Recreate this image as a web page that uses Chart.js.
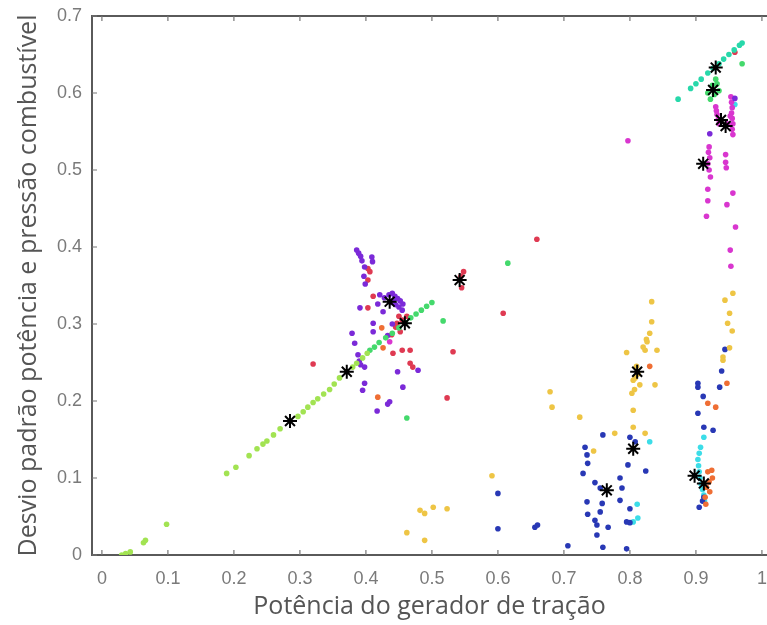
<!DOCTYPE html>
<html>
<head>
<meta charset="utf-8">
<script src="https://cdn.jsdelivr.net/npm/chart.js@4/dist/chart.umd.min.js"></script>
<style>
  html, body { margin: 0; padding: 0; background: #fff; }
  #wrap { width: 767px; height: 625px; }
</style>
</head>
<body>
<div id="wrap"><canvas id="chart" width="767" height="625"></canvas></div>
<script>
// axis ticks
const xTicks = [0, 0.1, 0.2, 0.3, 0.4, 0.5, 0.6, 0.7, 0.8, 0.9, 1];
const yTicks = [0, 0.1, 0.2, 0.3, 0.4, 0.5, 0.6, 0.7];

// points per colour group, [x, y]
const limePts = [[0.030,0.000],[0.036,0.002],[0.043,0.004],[0.063,0.016],[0.066,0.019],[0.098,0.040],
  [0.189,0.106],[0.203,0.114],[0.223,0.129],[0.235,0.138],[0.244,0.144],[0.250,0.148],[0.260,0.156],
  [0.270,0.164],[0.297,0.180],[0.305,0.186],[0.312,0.192],[0.320,0.198],[0.327,0.203],[0.336,0.209],
  [0.345,0.215],[0.352,0.222],[0.360,0.230],[0.380,0.244],[0.386,0.249],[0.395,0.256],[0.402,0.262]];
const greenPts = [[0.406,0.266],[0.413,0.270],[0.420,0.276],[0.430,0.282],[0.440,0.288],[0.450,0.295],
  [0.460,0.302],[0.468,0.308],[0.476,0.313],[0.484,0.318],[0.492,0.323],[0.500,0.328],
  [0.462,0.178],[0.517,0.304],[0.615,0.379],[0.970,0.638],
  [0.918,0.600],[0.925,0.610],[0.932,0.612],[0.928,0.598],[0.935,0.603],[0.922,0.592],[0.930,0.618]];
const tealPts = [[0.873,0.592],[0.892,0.606],[0.900,0.612],[0.908,0.618],[0.918,0.626],[0.926,0.632],
  [0.935,0.638],[0.942,0.644],[0.950,0.650],[0.958,0.656],[0.966,0.662],[0.970,0.665]];
const purplePts = [[0.428,0.334],[0.435,0.338],[0.440,0.340],[0.444,0.336],[0.448,0.333],[0.452,0.330],
  [0.445,0.325],[0.450,0.322],[0.455,0.318],[0.438,0.328],[0.442,0.331],[0.456,0.326],
  [0.386,0.396],[0.389,0.392],[0.392,0.388],[0.394,0.382],[0.409,0.387],[0.410,0.381],[0.398,0.374],
  [0.397,0.362],[0.399,0.352],[0.421,0.338],[0.391,0.321],[0.418,0.326],[0.426,0.316],[0.411,0.301],
  [0.411,0.290],[0.379,0.288],[0.383,0.275],[0.388,0.260],[0.390,0.252],[0.392,0.247],[0.398,0.244],
  [0.479,0.240],[0.448,0.238],[0.456,0.218],[0.398,0.223],[0.395,0.214],[0.436,0.199],[0.417,0.187],
  [0.433,0.196],[0.440,0.300],[0.433,0.285],[0.921,0.547],[0.959,0.593]];
const redPts = [[0.403,0.372],[0.406,0.368],[0.403,0.357],[0.411,0.336],[0.403,0.321],[0.447,0.301],
  [0.452,0.290],[0.439,0.286],[0.441,0.262],[0.455,0.266],[0.467,0.266],[0.467,0.249],[0.471,0.244],
  [0.523,0.204],[0.532,0.264],[0.545,0.347],[0.544,0.362],[0.548,0.368],[0.320,0.248],[0.608,0.314],
  [0.659,0.410],[0.959,0.653],[0.455,0.305],[0.462,0.310],[0.445,0.296],[0.450,0.310]];
const magentaPts = [[0.930,0.582],[0.931,0.577],[0.932,0.572],[0.934,0.566],[0.935,0.560],
  [0.953,0.595],[0.954,0.588],[0.955,0.581],[0.954,0.574],[0.955,0.567],[0.956,0.560],[0.955,0.553],
  [0.956,0.546],[0.952,0.570],[0.948,0.560],[0.920,0.530],[0.919,0.523],[0.921,0.516],[0.918,0.508],
  [0.920,0.500],[0.922,0.491],[0.945,0.520],[0.945,0.510],[0.946,0.503],[0.918,0.475],[0.918,0.460],
  [0.916,0.440],[0.956,0.470],[0.947,0.455],[0.960,0.426],[0.952,0.396],[0.953,0.375],[0.797,0.538],
  [0.436,0.277]];
const orangePts = [[0.424,0.295],[0.426,0.269],[0.418,0.205],[0.830,0.245],[0.947,0.223],[0.918,0.197],
  [0.930,0.192],[0.918,0.108],[0.924,0.110],[0.925,0.100],[0.920,0.095],[0.916,0.088],[0.921,0.082],
  [0.914,0.075],[0.915,0.066]];
const yellowPts = [[0.833,0.329],[0.833,0.303],[0.830,0.288],[0.826,0.277],[0.823,0.266],[0.841,0.266],
  [0.795,0.263],[0.825,0.280],[0.820,0.270],[0.805,0.227],[0.815,0.221],[0.838,0.221],[0.803,0.210],
  [0.807,0.215],[0.805,0.188],[0.805,0.166],[0.823,0.158],[0.777,0.158],[0.679,0.212],[0.682,0.192],
  [0.724,0.179],[0.745,0.135],[0.591,0.103],[0.502,0.062],[0.523,0.060],[0.482,0.058],[0.489,0.054],
  [0.462,0.029],[0.489,0.019],[0.956,0.340],[0.944,0.331],[0.951,0.314],[0.948,0.301],[0.955,0.291],
  [0.951,0.269],[0.941,0.257],[0.941,0.253],[0.810,0.245],[0.812,0.235],[0.808,0.230]];
const bluePts = [[0.759,0.156],[0.800,0.153],[0.808,0.147],[0.732,0.140],[0.735,0.130],[0.736,0.119],
  [0.797,0.117],[0.729,0.106],[0.824,0.109],[0.747,0.094],[0.755,0.087],[0.785,0.100],[0.788,0.087],
  [0.785,0.071],[0.735,0.069],[0.758,0.067],[0.736,0.053],[0.755,0.056],[0.800,0.060],[0.747,0.045],
  [0.767,0.036],[0.750,0.039],[0.795,0.043],[0.800,0.042],[0.750,0.026],[0.759,0.010],[0.795,0.008],
  [0.706,0.012],[0.600,0.080],[0.600,0.034],[0.656,0.036],[0.660,0.039],[0.944,0.267],[0.939,0.239],
  [0.936,0.218],[0.903,0.223],[0.903,0.218],[0.911,0.206],[0.903,0.184],[0.912,0.166],[0.926,0.162],
  [0.912,0.075],[0.910,0.070],[0.905,0.062]];
const cyanPts = [[0.830,0.147],[0.811,0.066],[0.812,0.048],[0.805,0.043],[0.912,0.153],[0.907,0.140],
  [0.905,0.132],[0.903,0.124],[0.904,0.116],[0.905,0.108],[0.906,0.100],[0.908,0.092],[0.910,0.085],
  [0.912,0.078],[0.913,0.070],[0.959,0.585]];
const starPts = [[0.285,0.174],[0.371,0.238],[0.436,0.329],[0.459,0.301],[0.542,0.357],[0.765,0.084],
  [0.805,0.138],[0.811,0.238],[0.898,0.103],[0.912,0.093],[0.911,0.508],[0.938,0.565],[0.945,0.557],
  [0.926,0.604],[0.930,0.633]];

const groups = [
  { pts: limePts, color: '#a2e352' },
  { pts: greenPts, color: '#44d96c' },
  { pts: tealPts, color: '#27d8aa' },
  { pts: purplePts, color: '#7b2ad8' },
  { pts: redPts, color: '#df3a52' },
  { pts: magentaPts, color: '#d936cf' },
  { pts: orangePts, color: '#ef6e34' },
  { pts: yellowPts, color: '#eec545' },
  { pts: bluePts, color: '#2838b5' },
  { pts: cyanPts, color: '#3cdde8' }
];

const toXY = pts => pts.map(p => ({ x: p[0], y: p[1] }));

const datasets = groups.map(g => ({
  data: toXY(g.pts),
  backgroundColor: g.color,
  borderWidth: 0,
  pointRadius: 2.8,
  order: 2
}));
datasets.push({
  data: toXY(starPts),
  pointStyle: 'star',
  pointRadius: 7,
  borderColor: '#000',
  backgroundColor: '#000',
  borderWidth: 2,
  order: 1
});

// box on top + inward tick marks, MATLAB style
const boxTicks = {
  id: 'boxTicks',
  afterDraw(chart) {
    const { ctx, chartArea: a, scales: { x, y } } = chart;
    ctx.save();
    ctx.strokeStyle = '#5a5a5a';
    ctx.lineWidth = 2;
    ctx.beginPath();
    ctx.moveTo(a.left, a.top); ctx.lineTo(a.right, a.top);
    ctx.stroke();
    ctx.strokeStyle = '#777';
    ctx.lineWidth = 1.2;
    ctx.beginPath();
    xTicks.forEach(v => {
      const px = x.getPixelForValue(v);
      ctx.moveTo(px, a.bottom); ctx.lineTo(px, a.bottom - 5);
      ctx.moveTo(px, a.top); ctx.lineTo(px, a.top + 5);
    });
    yTicks.forEach(v => {
      const py = y.getPixelForValue(v);
      ctx.moveTo(a.left, py); ctx.lineTo(a.left + 5, py);
    });
    ctx.stroke();
    ctx.restore();
  }
};

new Chart(document.getElementById('chart'), {
  type: 'scatter',
  data: { datasets },
  plugins: [boxTicks],
  options: {
    responsive: false,
    animation: false,
    layout: { autoPadding: false, padding: { top: 16, right: 0, left: 0, bottom: 0 } },
    plugins: { legend: { display: false }, tooltip: { enabled: false } },
    scales: {
      x: {
        type: 'linear',
        min: -0.015,
        max: 1.0077,
        afterFit(s) { s.height = 70; s.paddingLeft = 0; s.paddingRight = 0; },
        afterBuildTicks(s) { s.ticks = xTicks.map(v => ({ value: v })); },
        grid: { display: false, drawTicks: false },
        border: { display: true, color: '#5a5a5a', width: 2 },
        ticks: {
          padding: 13,
          color: '#7a7a7a',
          font: { family: 'Liberation Sans', size: 18 },
          callback: v => String(Math.round(v * 10) / 10)
        },
        title: {
          display: true,
          text: 'Potência do gerador de tração',
          color: '#555',
          font: { family: 'Open Sans', size: 25 },
          padding: { top: 0, bottom: 3 }
        }
      },
      y: {
        type: 'linear',
        min: 0,
        max: 0.7,
        afterFit(s) { s.width = 92; s.paddingTop = 0; s.paddingBottom = 0; },
        afterBuildTicks(s) { s.ticks = yTicks.map(v => ({ value: v })); },
        grid: { display: false, drawTicks: false },
        border: { display: true, color: '#5a5a5a', width: 2 },
        ticks: {
          padding: 10,
          color: '#7a7a7a',
          font: { family: 'Liberation Sans', size: 18 },
          callback: v => String(Math.round(v * 10) / 10)
        },
        title: {
          display: true,
          text: 'Desvio padrão potência e pressão combustível',
          color: '#555',
          font: { family: 'Open Sans', size: 25 },
          padding: { top: 14, bottom: 0 }
        }
      }
    }
  }
});
</script>
</body>
</html>
